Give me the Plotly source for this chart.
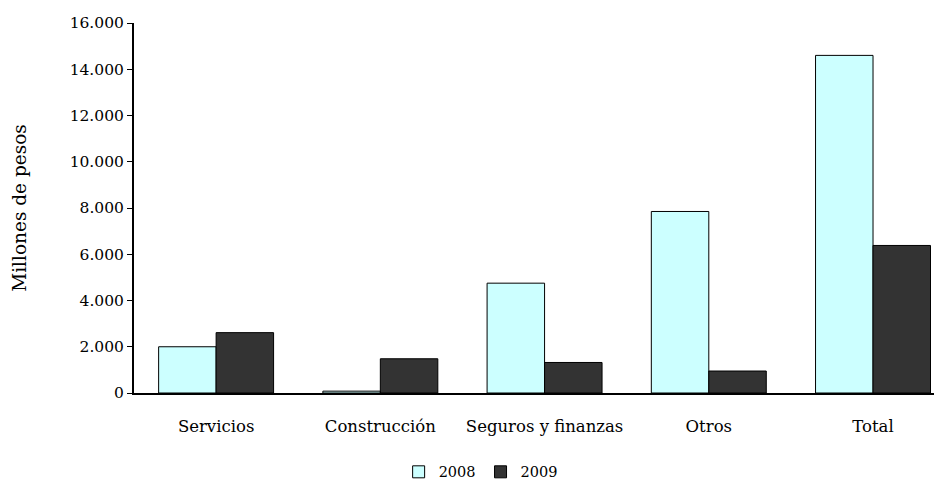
import plotly.graph_objects as go

categories = ["Servicios", "Construcción", "Seguros y finanzas", "Otros", "Total"]
values_2008 = [2000, 80, 4750, 7850, 14600]
values_2009 = [2610, 1480, 1320, 950, 6380]
tick_vals = [0, 2000, 4000, 6000, 8000, 10000, 12000, 14000, 16000]
tick_text = ["0", "2.000", "4.000", "6.000", "8.000", "10.000", "12.000", "14.000", "16.000"]

FONT = "DejaVu Serif"

fig = go.Figure()
fig.add_trace(go.Bar(name="2008", x=categories, y=values_2008,
                     marker=dict(color="#CCFFFF", line=dict(color="black", width=1))))
fig.add_trace(go.Bar(name="2009", x=categories, y=values_2009,
                     marker=dict(color="#333333", line=dict(color="black", width=1))))

fig.update_layout(
    width=934, height=478,
    margin=dict(l=126, r=0, t=15, b=93, autoexpand=False),
    paper_bgcolor="white", plot_bgcolor="white",
    barmode="group", bargap=0.30, bargroupgap=0,
    font=dict(family=FONT, size=15, color="black"),
    showlegend=True,
    legend=dict(orientation="h", x=0.429, xanchor="center", y=-0.17, yanchor="top",
                font=dict(family=FONT, size=14.5), itemwidth=30, traceorder="normal",
                tracegroupgap=0, bgcolor="rgba(0,0,0,0)"),
    xaxis=dict(range=[-0.5, 4.42], showline=True, linecolor="black", linewidth=2,
               ticks="", showgrid=False, ticklabelstandoff=17, automargin=False,
               tickfont=dict(family=FONT, size=16.5)),
    yaxis=dict(range=[0, 16000], tickvals=tick_vals, ticktext=tick_text,
               showline=True, linecolor="black", linewidth=2, ticks="outside",
               ticklen=5, tickcolor="black", showgrid=False, zeroline=False,
               automargin=False,
               tickfont=dict(family=FONT, size=15.5),
               title=dict(text="Millones de pesos", standoff=38,
                          font=dict(family=FONT, size=18.5))),
)

fig.write_html("out.html")
